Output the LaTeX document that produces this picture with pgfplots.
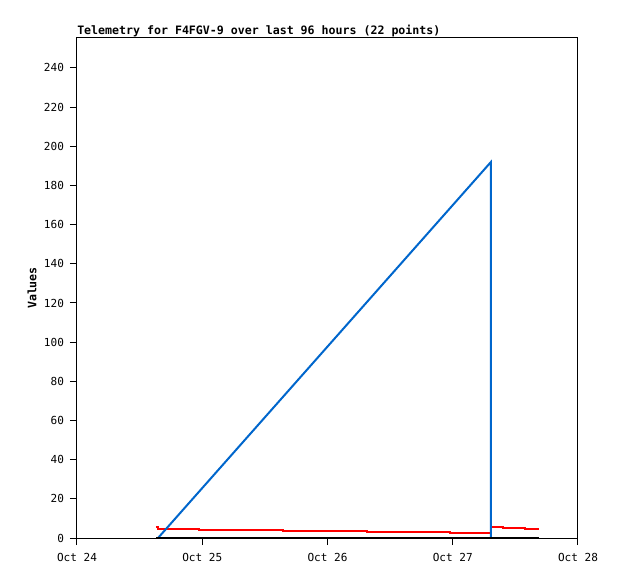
\documentclass[border=0pt]{standalone}
\usepackage{fontspec}
\setmainfont{DejaVu Sans Mono}
\setmonofont{DejaVu Sans Mono}
\usepackage{pgfplots}
\pgfplotsset{compat=1.18}

\definecolor{telblue}{HTML}{0066CC}
\definecolor{telred}{HTML}{FF0000}

\begin{document}
\begin{tikzpicture}
% page = 618 x 579 px at 0.75pt per px
\path[use as bounding box] (-57.75pt,-30.75pt) rectangle (405.75pt,403.5pt);
\begin{axis}[
    scale only axis,
    width=375.75pt, height=375pt,
    xmin=0, xmax=4,
    ymin=0, ymax=255.3,
    xtick={0,1,2,3,4},
    xticklabels={Oct 24,Oct 25,Oct 26,Oct 27,Oct 28},
    ytick={0,20,...,240},
    tick align=outside,
    xtick pos=lower, ytick pos=left,
    major tick length=5.25pt,
    tick style={black, line width=0.75pt},
    axis line style={black, line width=0.75pt},
    tick label style={font=\fontsize{8.3}{9}\selectfont},
    /pgf/number format/assume math mode=true,
    yticklabel style={xshift=-1pt},
    xticklabel style={yshift=-3pt},
    ylabel={\bfseries Values},
    ylabel style={font=\fontsize{8.7}{9}\selectfont, at={(rel axis cs:0,0.5)}, anchor=center, yshift=33.75pt},
    title={\bfseries Telemetry for F4FGV-9 over last 96 hours (22 points)},
    title style={font=\fontsize{8.7}{9}\selectfont, at={(rel axis cs:0,1)}, anchor=base west, yshift=-3.6pt, inner sep=0pt},
    clip=false,
]
% red series (step)
\addplot[color=telred, line width=1.5pt, const plot] coordinates {
    (0.631,5.6) (0.647,4.75) (0.974,4.1) (1.645,3.7) (2.315,3.2)
    (2.978,2.6) (3.305,5.6) (3.401,5.1) (3.577,4.6) (3.689,4.6)
};
% blue series
\addplot[color=telblue, line width=1.5pt] coordinates {
    (0.647,0) (3.305,192) (3.305,0)
};
% black series
\addplot[color=black, line width=1.5pt] coordinates {
    (0.631,0) (3.689,0)
};
\end{axis}
\end{tikzpicture}
\end{document}
